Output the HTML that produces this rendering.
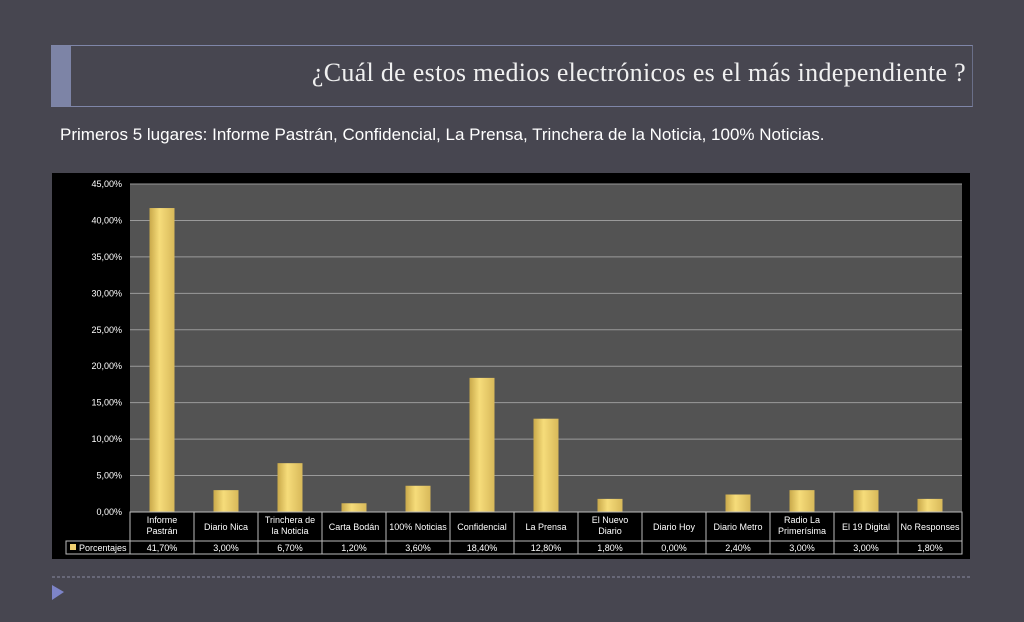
<!DOCTYPE html>
<html><head><meta charset="utf-8"><style>
body{margin:0;width:1024px;height:622px;background:#474650;overflow:hidden;font-family:"Liberation Sans",sans-serif;position:relative}
.t{position:absolute;left:51px;top:45px;width:921px;height:60px;border-top:1px solid #7f86a8;border-bottom:1px solid #7f86a8;border-right:1px solid #6a6f88}
.acc{position:absolute;left:51px;top:45px;width:20px;height:62px;background:#7d84a6}
h1{position:absolute;right:58px;top:58px;margin:0;font:400 26px "Liberation Serif",serif;color:#f0f0f0;letter-spacing:0.3px}
.sub{position:absolute;left:60px;top:125px;font-size:17px;color:#fff}
svg{position:absolute;left:0;top:0}
</style></head><body>
<div class="acc"></div>
<div class="t"></div>
<h1>¿Cuál de estos medios electrónicos es el más independiente ?</h1>
<div class="sub">Primeros 5 lugares: Informe Pastrán, Confidencial, La Prensa,  Trinchera de la Noticia, 100% Noticias.</div>
<svg id="c" width="1024" height="622"></svg>
<script>
const categories=[["Informe","Pastrán"],["Diario Nica"],["Trinchera de","la Noticia"],["Carta Bodán"],["100% Noticias"],["Confidencial"],["La Prensa"],["El Nuevo","Diario"],["Diario Hoy"],["Diario Metro"],["Radio La","Primerísima"],["El 19 Digital"],["No Responses"]];
const values=[41.7,3.0,6.7,1.2,3.6,18.4,12.8,1.8,0.0,2.4,3.0,3.0,1.8];
const valueLabels=["41,70%","3,00%","6,70%","1,20%","3,60%","18,40%","12,80%","1,80%","0,00%","2,40%","3,00%","3,00%","1,80%"];
const ticks=[0,5,10,15,20,25,30,35,40,45];
const tickLabels=["0,00%","5,00%","10,00%","15,00%","20,00%","25,00%","30,00%","35,00%","40,00%","45,00%"];
const NS="http://www.w3.org/2000/svg",s=document.getElementById('c');
function el(t,a,txt){const e=document.createElementNS(NS,t);for(const k in a)e.setAttribute(k,a[k]);if(txt!==undefined)e.textContent=txt;s.appendChild(e);return e;}
const L=130,R=962,T=184,B=512,cw=(R-L)/categories.length;
const y=v=>B-(v/45)*(B-T), x=i=>L+i*cw;
let e;
e=el('rect',{x:52,y:173,width:918,height:386,fill:'#000'});


e=el('rect',{x:L,y:T,width:R-L,height:B-T,fill:'#535353'});


const defs=el('defs',{});
defs.innerHTML='<linearGradient id="g" x1="0" x2="1"><stop offset="0" stop-color="#c9a94a"/><stop offset="0.4" stop-color="#f6dc7a"/><stop offset="1" stop-color="#d8b95a"/></linearGradient>';
ticks.forEach((t,i)=>{
 e=el('line',{x1:L,x2:R,y1:y(t),y2:y(t),stroke:'#9a9a9a','stroke-width':1});
 
 
 e=el('text',{x:122,y:y(t)+3,fill:'#fff','font-size':9,'text-anchor':'end'},tickLabels[i]);
 
 
});
values.forEach((v,i)=>{
 const bw=25,bx=x(i)+cw/2-bw/2;
 e=el('rect',{x:bx,y:y(v),width:bw,height:B-y(v),fill:'url(#g)'});
 
 
});
// table
const tb=541,te=554;
e=el('rect',{x:L,y:B,width:R-L,height:te-B,fill:'none',stroke:'#bbb','stroke-width':1});


el('rect',{x:66,y:tb,width:R-66,height:te-tb,fill:'none',stroke:'#bbb','stroke-width':1});
el('line',{x1:L,x2:R,y1:tb,y2:tb,stroke:'#bbb'});
categories.forEach((c,i)=>{
 el('line',{x1:x(i),x2:x(i),y1:B,y2:te,stroke:'#bbb'});
 const cx=x(i)+cw/2;
 c.forEach((ln,j)=>{
  e=el('text',{x:cx,y:(c.length==1?530:523+j*11),fill:'#fff','font-size':9,'text-anchor':'middle'},ln);
  
  
 });
 e=el('text',{x:cx,y:551,fill:'#fff','font-size':9,'text-anchor':'middle'},valueLabels[i]);
 
 
});
e=el('rect',{x:70,y:544,width:6,height:6,fill:'#f0d070'});


e=el('text',{x:79,y:551,fill:'#fff','font-size':9},'Porcentajes');


e=el('line',{x1:52,x2:970,y1:577,y2:577,stroke:'#8a8aa0','stroke-dasharray':'3,2'});


e=el('polygon',{points:'52,585 64,592 52,600',fill:'#7d84c8'});


</script>
</body></html>
